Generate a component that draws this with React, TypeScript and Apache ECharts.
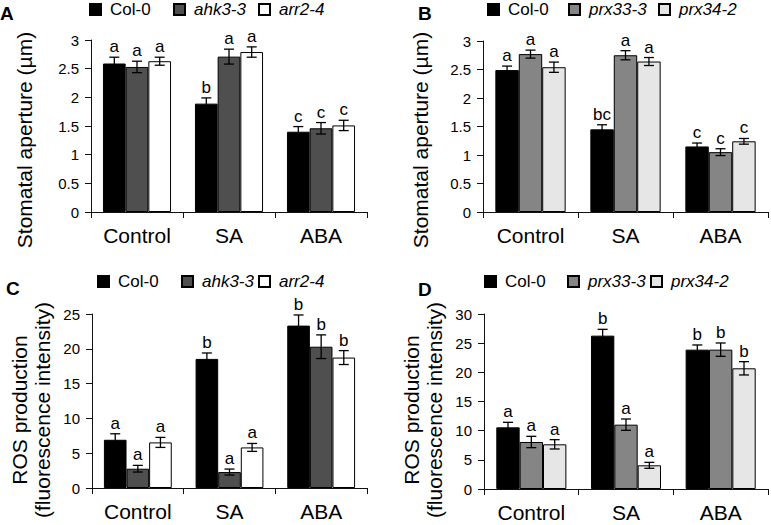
import React, { useEffect, useRef } from "react";
import * as echarts from "echarts";

const categories = ["Control", "SA", "ABA"];

// Panel A: stomatal aperture (µm)
const aNames = ["Col-0", "ahk3-3", "arr2-4"];
const aCol = [2.59, 1.89, 1.4];
const aAhk = [2.53, 2.71, 1.46];
const aArr = [2.63, 2.79, 1.51];
const aColErr = [0.11, 0.1, 0.09];
const aAhkErr = [0.1, 0.13, 0.1];
const aArrErr = [0.07, 0.09, 0.09];
const aLetters = [["a", "b", "c"], ["a", "a", "c"], ["a", "a", "c"]];

// Panel B: stomatal aperture (µm)
const bNames = ["Col-0", "prx33-3", "prx34-2"];
const bCol = [2.49, 1.45, 1.15];
const bPrx33 = [2.77, 2.75, 1.05];
const bPrx34 = [2.54, 2.64, 1.24];
const bColErr = [0.07, 0.08, 0.06];
const bPrx33Err = [0.07, 0.08, 0.06];
const bPrx34Err = [0.09, 0.07, 0.05];
const bLetters = [["a", "bc", "c"], ["a", "a", "c"], ["a", "a", "c"]];

// Panel C: ROS production
const cCol = [6.93, 18.55, 23.33];
const cAhk = [2.77, 2.29, 20.3];
const cArr = [6.55, 5.83, 18.74];
const cColErr = [0.86, 0.85, 1.53];
const cAhkErr = [0.48, 0.43, 1.7];
const cArrErr = [0.72, 0.57, 1.0];
const cLetters = [["a", "b", "b"], ["a", "a", "b"], ["a", "a", "b"]];

// Panel D: ROS production
const dCol = [10.57, 26.29, 23.89];
const dPrx33 = [8.06, 11.03, 23.89];
const dPrx34 = [7.66, 4.06, 20.69];
const dColErr = [0.86, 1.08, 0.8];
const dPrx33Err = [0.97, 0.97, 1.14];
const dPrx34Err = [0.8, 0.51, 1.14];
const dLetters = [["a", "b", "b"], ["a", "a", "b"], ["a", "a", "b"]];

const yMaxes = [3, 3, 25, 30];
const yIntervals = [0.5, 0.5, 5, 5];

const FONT = "'Liberation Sans', Arial, Helvetica, sans-serif";
const GAP = 0.26;

export default function App() {
  const ref = useRef<HTMLDivElement>(null);

  useEffect(() => {
    document.body.style.margin = "0";
    const chart = echarts.init(ref.current!, null, { renderer: "svg" });

    const panels = [
      { names: aNames, means: [aCol, aAhk, aArr], errs: [aColErr, aAhkErr, aArrErr], letters: aLetters, colors: ["#000000", "#4f4f4f", "#ffffff"] },
      { names: bNames, means: [bCol, bPrx33, bPrx34], errs: [bColErr, bPrx33Err, bPrx34Err], letters: bLetters, colors: ["#000000", "#858585", "#e6e6e6"] },
      { names: aNames, means: [cCol, cAhk, cArr], errs: [cColErr, cAhkErr, cArrErr], letters: cLetters, colors: ["#000000", "#4f4f4f", "#ffffff"] },
      { names: bNames, means: [dCol, dPrx33, dPrx34], errs: [dColErr, dPrx33Err, dPrx34Err], letters: dLetters, colors: ["#000000", "#858585", "#e6e6e6"] },
    ];

    const grids = [
      { left: 91, top: 40, width: 276, height: 172 },
      { left: 483, top: 41, width: 285, height: 171 },
      { left: 92, top: 314, width: 275, height: 174 },
      { left: 484, top: 314, width: 284, height: 175 },
    ];

    const legendPos = [
      { xs: [89, 173, 258], cy: 10 },
      { xs: [487, 568, 658], cy: 10 },
      { xs: [97, 181, 258], cy: 282 },
      { xs: [484, 567, 650], cy: 282 },
    ];

    const xAxes: any[] = [];
    const yAxes: any[] = [];
    const series: any[] = [];
    const legends: any[] = [];

    panels.forEach((p, gi) => {
      xAxes.push({
        type: "category",
        gridIndex: gi,
        data: categories,
        axisLine: { lineStyle: { color: "#111", width: 1 } },
        axisTick: { show: true, length: 6, lineStyle: { color: "#111" } },
        axisLabel: { fontSize: 21, color: "#000", fontFamily: FONT, margin: 13 },
      });
      yAxes.push({
        type: "value",
        gridIndex: gi,
        min: 0,
        max: yMaxes[gi],
        interval: yIntervals[gi],
        splitLine: { show: false },
        axisLine: { show: true, lineStyle: { color: "#111", width: 1 } },
        axisTick: { show: true, length: 6, lineStyle: { color: "#111" } },
        axisLabel: { fontSize: 15, color: "#000", fontFamily: FONT, margin: 12 },
      });
      p.names.forEach((name, si) => {
        series.push({
          type: "bar",
          name,
          xAxisIndex: gi,
          yAxisIndex: gi,
          data: p.means[si],
          barCategoryGap: GAP * 100 + "%",
          barGap: "0%",
          itemStyle: { color: p.colors[si], borderColor: "#000", borderWidth: 1 },
        });
        legends.push({
          data: [name],
          left: legendPos[gi].xs[si],
          top: legendPos[gi].cy - 9,
          padding: 0,
          itemWidth: 11,
          itemHeight: 11,
          icon: "rect",
          selectedMode: false,
          textStyle: {
            fontSize: 17,
            color: "#000",
            fontFamily: FONT,
            fontStyle: si === 0 ? "normal" : "italic",
            padding: [0, 0, 0, 4],
          },
        });
      });
      const errData: number[][] = [];
      const letterList: string[] = [];
      p.names.forEach((_, si) => {
        categories.forEach((_c, ci) => {
          errData.push([ci, p.means[si][ci], p.errs[si][ci], si]);
          letterList.push(p.letters[si][ci]);
        });
      });
      series.push({
        type: "custom",
        xAxisIndex: gi,
        yAxisIndex: gi,
        z: 5,
        encode: { x: 0, y: 1 },
        data: errData,
        renderItem: (params: any, api: any) => {
          const ci = api.value(0);
          const mean = api.value(1);
          const err = api.value(2);
          const si = api.value(3);
          const band = api.size([1, 0])[0];
          const bw = (band * (1 - GAP)) / 3;
          const x = api.coord([ci, 0])[0] + (si - 1) * bw;
          const yTop = api.coord([ci, mean + err])[1];
          const yBot = api.coord([ci, mean - err])[1];
          const cap = 5;
          const ls = { stroke: "#000", lineWidth: 1.3 };
          return {
            type: "group",
            children: [
              { type: "line", shape: { x1: x, y1: yTop, x2: x, y2: yBot }, style: ls },
              { type: "line", shape: { x1: x - cap, y1: yTop, x2: x + cap, y2: yTop }, style: ls },
              { type: "line", shape: { x1: x - cap, y1: yBot, x2: x + cap, y2: yBot }, style: ls },
              {
                type: "text",
                x,
                y: yTop - 2,
                style: {
                  text: letterList[params.dataIndex],
                  fill: "#000",
                  fontSize: 17,
                  fontFamily: FONT,
                  align: "center",
                  verticalAlign: "bottom",
                  textAlign: "center",
                  textVerticalAlign: "bottom",
                },
              },
            ],
          };
        },
      });
    });

    const titleStyle = (text: string) => ({
      text,
      fill: "#000",
      fontSize: 21,
      fontFamily: FONT,
      align: "center",
      verticalAlign: "middle",
      textAlign: "center",
      textVerticalAlign: "middle",
      lineHeight: 23,
    });
    const panelLabel = (text: string, x: number, y: number) => ({
      type: "text",
      left: x,
      top: y,
      style: { text, fill: "#000", fontSize: 19, fontWeight: "bold", fontFamily: FONT },
    });

    const graphic: any[] = [
      panelLabel("A", 0, 4),
      panelLabel("B", 418, 4),
      panelLabel("C", 6, 279),
      panelLabel("D", 418, 280),
      { type: "text", x: 24, y: 140, rotation: Math.PI / 2, style: titleStyle("Stomatal aperture (µm)") },
      { type: "text", x: 420, y: 140, rotation: Math.PI / 2, style: titleStyle("Stomatal aperture (µm)") },
      { type: "text", x: 31, y: 410, rotation: Math.PI / 2, style: titleStyle("ROS production\n(fluorescence intensity)") },
      { type: "text", x: 423, y: 410, rotation: Math.PI / 2, style: titleStyle("ROS production\n(fluorescence intensity)") },
    ];

    chart.setOption({
      animation: false,
      backgroundColor: "#ffffff",
      textStyle: { fontFamily: FONT },
      grid: grids,
      xAxis: xAxes,
      yAxis: yAxes,
      legend: legends,
      series,
      graphic,
    });

    return () => chart.dispose();
  }, []);

  return <div ref={ref} style={{ width: 771, height: 525 }} />;
}
